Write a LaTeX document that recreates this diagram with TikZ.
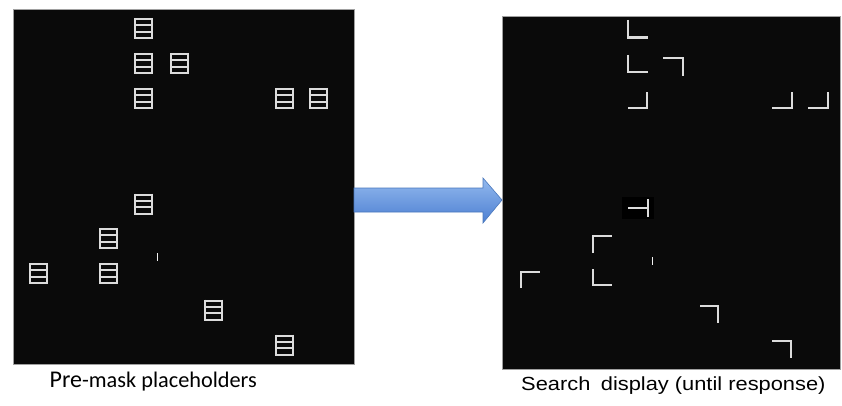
\documentclass[tikz,border=0pt]{standalone}
\usepackage{fontspec}
\usepackage{graphicx}
\usetikzlibrary{calc}
\setmainfont{Liberation Sans}
\newfontfamily\capfont{Carlito}
\definecolor{panelbg}{HTML}{0A0A0A}
\definecolor{panelrim}{HTML}{A0A0A0}
\definecolor{stimgray}{HTML}{DCDCDC}
\definecolor{arrowtop}{HTML}{93B9EE}
\definecolor{arrowbot}{HTML}{4C7FD2}
\definecolor{arrowrim}{HTML}{4A78BC}
\tikzset{
  panel/.style={fill=panelbg, draw=panelrim, line width=1pt},
  stim/.style={draw=stimgray, line width=2.3pt, line cap=butt, line join=miter},
  rung/.style={draw=stimgray, line width=2pt},
  ladder/.pic={
    \draw[rung] (-8.5,-10.5) -- (-8.5,10.5) (8.5,-10.5) -- (8.5,10.5);
    \foreach \r in {-9.5,-3.2,3.2,9.5}{\draw[rung] (-8.5,\r) -- (8.5,\r);}
  },
  caption/.style={anchor=base west, inner sep=0pt, text=black}
}
\begin{document}
\begin{tikzpicture}[x=1pt, y=-1pt]
\useasboundingbox (0,0) rectangle (842,406);
\fill[white] (0,0) rectangle (842,406);

% the two screens
\draw[panel] (13,10) rectangle (354,364);
\draw[panel] (502,17) rectangle (840,369);
\coordinate (leftscreen) at (354,200);
\coordinate (rightscreen) at (502,200);

% placeholder ladders
\foreach \p in {(143.5,28.5),(143.5,63.5),(179,63.5),(143.5,98.5),(284,98.5),(318,98.5),
                (143.5,204),(108.5,238.5),(38.5,273.5),(108.5,273.5),(213,310),(284,345)}
  \pic at \p {ladder};
\draw[draw=stimgray!40, line width=0.8pt] (157.7,253) -- (157.7,261);

% search items
\draw[stim] (628,20) -- (628,37.5) -- (648,37.5);
\draw[stim] (628,55) -- (628,72) -- (648,72);
\draw[stim] (663,58) -- (683,58) -- (683,76);
\draw[stim] (628,108) -- (647,108) -- (647,92);
\draw[stim] (772,108) -- (792,108) -- (792,92);
\draw[stim] (808,108) -- (828,108) -- (828,92);
\fill[black] (622,197) rectangle (654,219);
\draw[stim] (628,208) -- (648,208) (648,199) -- (648,217);
\draw[stim] (593,253) -- (593,236) -- (612,236);
\draw[stim] (521,288) -- (521,272) -- (540,272);
\draw[stim] (593,269) -- (593,285) -- (612,285);
\draw[stim] (700,306) -- (718,306) -- (718,323);
\draw[stim] (772,341) -- (791,341) -- (791,358);
\draw[draw=stimgray!40, line width=0.8pt] (652,257) -- (652,265);

% block arrow between the screens
\shade[top color=arrowtop, bottom color=arrowbot, draw=arrowrim, line width=0.6pt]
  ($(leftscreen)+(0,-12)$) -- (483,188) -- (483,178) -- (rightscreen) -- (483,223)
  -- (483,212) -- ($(leftscreen)+(0,12)$) -- cycle;

% captions
\node[caption] (precap) at (49.5,387) {\capfont{\fontsize{24}{26}\selectfont Pre}{\fontsize{22.3}{24}\selectfont -mask placeholders}};
\node[caption] (searchcap) at (521,390) {\scalebox{1.15}[1]{\fontsize{19}{22}\selectfont Search\hspace{0.2em} display (until response)}};
\end{tikzpicture}
\end{document}
